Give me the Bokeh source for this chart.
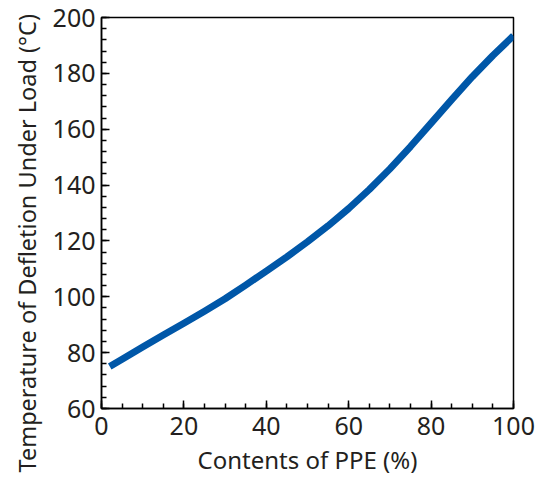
from bokeh.plotting import figure
from bokeh.models import Range1d, SingleIntervalTicker, Title
from bokeh.embed import file_html
from bokeh.resources import INLINE

ppe_content = [2, 5, 10, 15, 20, 25, 30, 35, 40, 45, 50, 55, 60, 65, 70, 75, 80, 85, 90, 95, 100]
deflection_temp = [75, 77.6, 82, 86.3, 90.5, 94.8, 99.3, 104.2, 109.2, 114.3, 119.7, 125.4, 131.6,
                   138.4, 145.8, 153.8, 162.2, 170.6, 178.8, 186.4, 193.5]

x_label = "Contents of PPE (%)"
y_label = "Temperature of Defletion Under Load (°C)"

FONT = "Noto Sans"
TXT = "#231f20"

p = figure(width=539, height=478, output_backend="svg", toolbar_location=None,
           x_range=Range1d(0, 100), y_range=Range1d(60, 200),
           min_border_left=101, min_border_right=26, min_border_top=17, min_border_bottom=70)

p.line(ppe_content, deflection_temp, line_color="#0057a8", line_width=7, line_join="round")

p.xaxis.ticker = SingleIntervalTicker(interval=20, num_minor_ticks=4)
p.yaxis.ticker = SingleIntervalTicker(interval=20, num_minor_ticks=5)
p.xaxis.axis_label = x_label

for ax in (p.xaxis[0], p.yaxis[0]):
    ax.major_tick_in = 8
    ax.major_tick_out = 0
    ax.minor_tick_in = 5
    ax.minor_tick_out = 0
    ax.major_tick_line_color = "black"
    ax.minor_tick_line_color = "black"
    ax.major_tick_line_width = 1.5
    ax.minor_tick_line_width = 1.5
    ax.axis_line_color = "black"
    ax.axis_line_width = 1.5
    ax.major_label_text_font = FONT
    ax.major_label_text_font_size = "25px"
    ax.major_label_text_color = TXT
    ax.axis_label_text_font = FONT
    ax.axis_label_text_font_size = "24px"
    ax.axis_label_text_font_style = "normal"
    ax.axis_label_text_color = TXT

p.xaxis.major_label_standoff = 8
p.yaxis.major_label_standoff = 6
p.xaxis.axis_label_standoff = 5

ytitle = Title(text=y_label, align="left", offset=-64, text_font=FONT,
               text_font_size="23.5px", text_font_style="normal", text_color=TXT,
               standoff=14)
p.add_layout(ytitle, "left")

p.grid.visible = False
p.outline_line_color = "black"
p.outline_line_width = 1.5
p.outline_line_alpha = 1
p.background_fill_color = "white"
p.border_fill_color = "white"

open("out.html", "w").write(file_html(p, INLINE))
